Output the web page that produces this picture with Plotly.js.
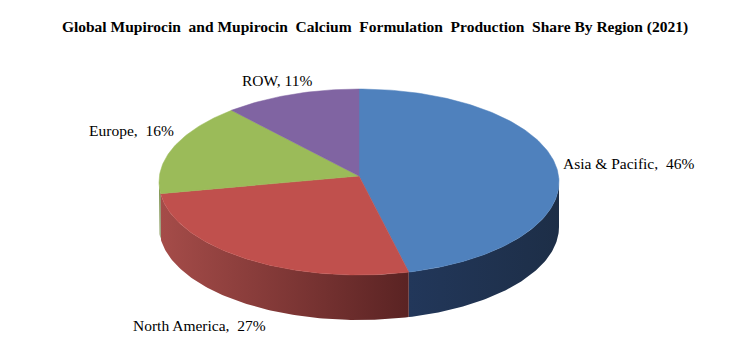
<!DOCTYPE html>
<html>
<head>
<meta charset="utf-8">
<script src="https://cdn.plot.ly/plotly-3.0.1.min.js"></script>
<style>html,body{margin:0;padding:0;background:#fff}#chart{width:750px;height:345px}</style>
</head>
<body>
<div id="chart"></div>
<script>
const regions = ['Asia & Pacific', 'North America', 'Europe', 'ROW'];
const shares = [46, 27, 16, 11];
const labelTexts = ['Asia & Pacific,\u00a0 46%', 'North America,\u00a0 27%', 'Europe,\u00a0 16%', 'ROW, 11%'];
const topColors = ['#4F81BD', '#C0504D', '#9BBB59', '#8064A2'];
const sideColors = [['#22375a', '#1d2e47'], ['#a54c49', '#5a2323'], ['#7d9647', '#5e7035'], ['#66507f', '#4c3c60']];

// pie geometry (plot units = pixels)
const cx = 359, cy = 182, rx = 200, ry = 93, depth = 45, apexY = 176;
function pt(deg, dy) {
  const r = deg * Math.PI / 180;
  return [cx + rx * Math.sin(r), cy - ry * Math.cos(r) + (dy || 0)];
}
function arc(a0, a1, dy) {
  const pts = [];
  const n = Math.max(2, Math.ceil(Math.abs(a1 - a0)));
  for (let i = 0; i <= n; i++) pts.push(pt(a0 + (a1 - a0) * i / n, dy));
  return pts;
}

const total = shares.reduce((a, b) => a + b, 0);
const sideTraces = [], topTraces = [];
let acc = 0;
shares.forEach((v, i) => {
  const a0 = acc / total * 360;
  acc += v;
  const a1 = acc / total * 360;
  // top face
  const tp = [[cx, apexY]].concat(arc(a0, a1)).concat([[cx, apexY]]);
  topTraces.push({
    type: 'scatter', mode: 'lines', fill: 'toself',
    x: tp.map(p => p[0]), y: tp.map(p => p[1]),
    fillcolor: topColors[i], line: {width: 0.5, color: topColors[i]},
    hoverinfo: 'text', text: regions[i] + ': ' + v + '%', name: regions[i]
  });
  // visible side (front half: 90..270 deg)
  const s0 = Math.max(a0, 90), s1 = Math.min(a1, 270);
  if (s1 > s0) {
    const up = arc(s0, s1, 0), dn = arc(s1, s0, depth);
    const sp = up.concat(dn).concat([up[0]]);
    sideTraces.push({
      type: 'scatter', mode: 'lines', fill: 'toself',
      x: sp.map(p => p[0]), y: sp.map(p => p[1]),
      fillcolor: sideColors[i][1],
      fillgradient: {type: 'horizontal', colorscale: [[0, sideColors[i][0]], [1, sideColors[i][1]]]},
      line: {width: 0}, hoverinfo: 'skip', name: regions[i] + ' side'
    });
  }
});

const font = {family: '"Liberation Serif", "Times New Roman", serif', size: 15.5, color: '#000'};
const annotations = [
  {x: 561, y: 163, text: labelTexts[0], xanchor: 'left'},
  {x: 199, y: 325, text: labelTexts[1], xanchor: 'center'},
  {x: 176, y: 130, text: labelTexts[2], xanchor: 'right'},
  {x: 277, y: 80, text: labelTexts[3], xanchor: 'center'}
].map(a => Object.assign({xref: 'x', yref: 'y', showarrow: false, yanchor: 'middle', font: font}, a));

const layout = {
  width: 750, height: 345,
  margin: {l: 0, r: 0, t: 0, b: 0},
  paper_bgcolor: '#fff', plot_bgcolor: '#fff',
  showlegend: false,
  title: {
    text: '<b>Global Mupirocin\u00a0 and Mupirocin\u00a0 Calcium\u00a0 Formulation\u00a0 Production\u00a0 Share By Region (2021)</b>',
    x: 0.5, xanchor: 'center', y: 1 - 27 / 345, yanchor: 'middle', yref: 'container',
    font: {family: '"Liberation Serif", "Times New Roman", serif', size: 15.5, color: '#000'}
  },
  xaxis: {range: [0, 750], visible: false, fixedrange: true},
  yaxis: {range: [345, 0], visible: false, fixedrange: true},
  annotations: annotations
};

Plotly.newPlot('chart', sideTraces.concat(topTraces), layout, {displayModeBar: false, staticPlot: true});
</script>
</body>
</html>
